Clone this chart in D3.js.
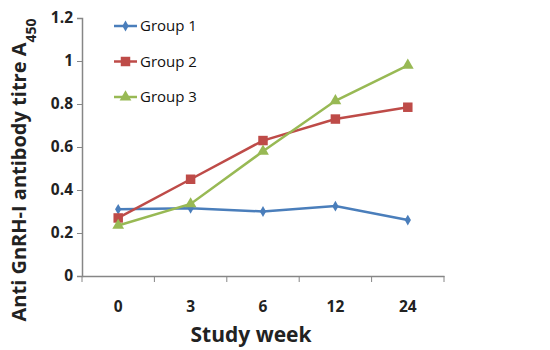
<!DOCTYPE html>
<html>
<head>
<meta charset="utf-8">
<script src="https://cdn.jsdelivr.net/npm/d3@7"></script>
<style>
  body { margin: 0; background: #fff; }
  text { font-family: "Open Sans", "Liberation Sans", sans-serif; }
</style>
</head>
<body>
<script>
var weeks = ["0", "3", "6", "12", "24"];
var group1 = [0.31, 0.315, 0.30, 0.325, 0.26];
var group2 = [0.27, 0.45, 0.63, 0.73, 0.785];
var group3 = [0.235, 0.335, 0.58, 0.815, 0.98];
var seriesNames = ["Group 1", "Group 2", "Group 3"];
var yTicks = [0, 0.2, 0.4, 0.6, 0.8, 1, 1.2];

var width = 550, height = 350;
var margin = { top: 18, right: 106, bottom: 74, left: 82 };
var plot_w = width - margin.left - margin.right;
var plot_h = height - margin.top - margin.bottom;

var colors = ["#4a7ebb", "#be4b48", "#98b954"];
var symbols = [d3.symbolDiamond, d3.symbolSquare, d3.symbolTriangle];
var symSizes = [34, 90, 60];

var svg = d3.select('body')
    .append('svg')
    .attr('width', width)
    .attr('height', height);

var g = svg.append('g')
    .attr('transform', `translate(${margin.left}, ${margin.top})`);

var x = d3.scaleBand()
    .domain(weeks)
    .range([0, plot_w]);

var y = d3.scaleLinear()
    .domain([0, 1.2])
    .range([plot_h, 0]);

// y axis
var yaxis = g.append('g')
    .call(d3.axisLeft(y).tickValues(yTicks).tickSize(5).tickPadding(4)
        .tickFormat(function(d) { return d3.format('')(+d.toFixed(1)); }));
yaxis.select('.domain').attr('stroke', '#868686').attr('stroke-width', 1.5);
yaxis.selectAll('.tick line').attr('stroke', '#868686');
yaxis.selectAll('text')
    .style('font-size', '15.5px')
    .style('font-weight', 'bold')
    .attr('fill', '#222');

// x axis
var xaxis = g.append('g')
    .attr('transform', `translate(0, ${plot_h})`)
    .call(d3.axisBottom(x).tickSize(0).tickPadding(25));
xaxis.select('.domain').attr('stroke', '#868686').attr('stroke-width', 1.5);
xaxis.selectAll('text')
    .style('font-size', '15.5px')
    .style('font-weight', 'bold')
    .attr('fill', '#222');

// x category separators
xaxis.selectAll('line.sep')
    .data(d3.range(weeks.length + 1))
    .enter()
    .append('line')
    .attr('class', 'sep')
    .attr('x1', function(i) { return i * x.step(); })
    .attr('x2', function(i) { return i * x.step(); })
    .attr('y1', 0)
    .attr('y2', 6)
    .attr('stroke', '#868686');

// axis titles
svg.append('text')
    .attr('x', 251)
    .attr('y', 342)
    .style('text-anchor', 'middle')
    .style('font-size', '21px')
    .style('font-weight', 'bold')
    .attr('fill', '#222')
    .text('Study week');

var ytitle = svg.append('text')
    .attr('transform', 'translate(26, 170) rotate(-90)')
    .style('text-anchor', 'middle')
    .style('font-size', '20px')
    .style('font-weight', 'bold')
    .attr('fill', '#222');
ytitle.append('tspan').text('Anti GnRH-I antibody titre A');
ytitle.append('tspan').attr('baseline-shift', 'sub').style('font-size', '14px').text('450');

// series
var series = [group1, group2, group3];
var line = d3.line()
    .x(function(d, i) { return x(weeks[i]) + x.bandwidth() / 2; })
    .y(function(d) { return y(d); });

series.forEach(function(vals, s) {
    g.append('path')
        .datum(vals)
        .attr('d', line)
        .attr('fill', 'none')
        .attr('stroke', colors[s])
        .attr('stroke-width', 2.5);

    g.selectAll('path.mark' + s)
        .data(vals)
        .enter()
        .append('path')
        .attr('class', 'mark' + s)
        .attr('d', d3.symbol().type(symbols[s]).size(symSizes[s]))
        .attr('transform', function(d, i) {
            return `translate(${x(weeks[i]) + x.bandwidth() / 2}, ${y(d)})`;
        })
        .attr('fill', colors[s]);
});

// legend
var legend = svg.append('g')
    .attr('transform', 'translate(114, 26)');
seriesNames.forEach(function(name, s) {
    var row = legend.append('g').attr('transform', `translate(0, ${s * 35.5})`);
    row.append('line')
        .attr('x1', 0).attr('x2', 23)
        .attr('y1', 0).attr('y2', 0)
        .attr('stroke', colors[s])
        .attr('stroke-width', 2.5);
    row.append('path')
        .attr('d', d3.symbol().type(symbols[s]).size(symSizes[s]))
        .attr('transform', 'translate(11.5, 0)')
        .attr('fill', colors[s]);
    row.append('text')
        .attr('x', 26)
        .attr('y', 5)
        .style('font-size', '15px')
        .style('font-weight', 500)
        .attr('fill', '#111')
        .text(name);
});
</script>
</body>
</html>
